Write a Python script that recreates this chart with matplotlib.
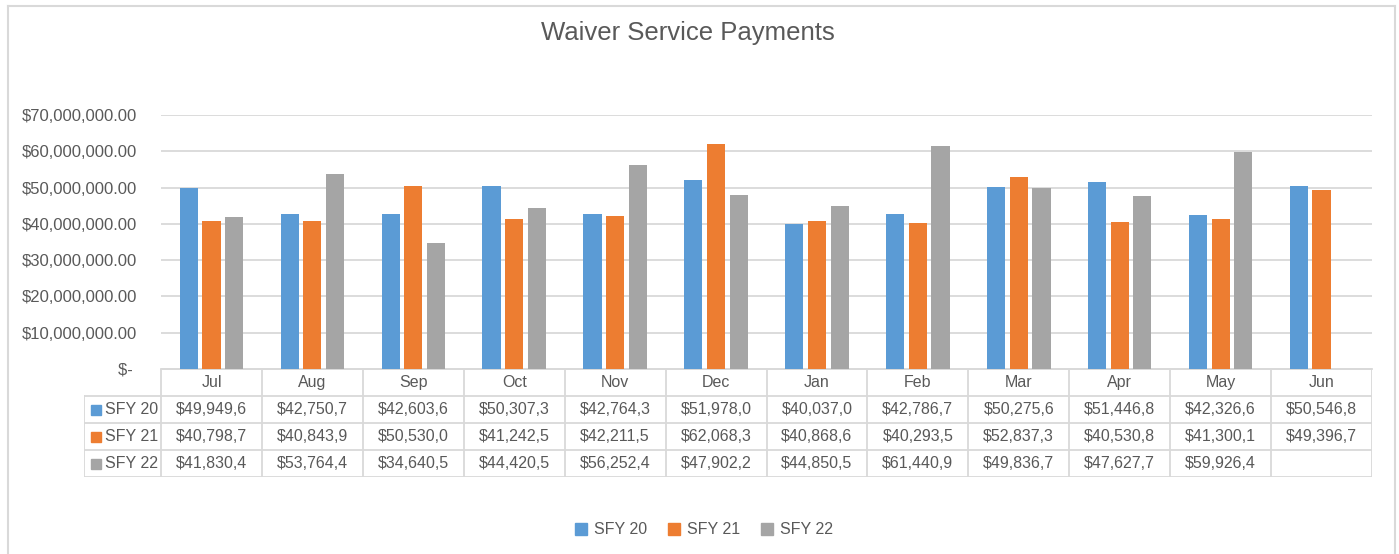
import matplotlib.pyplot as plt
import numpy as np

# Monthly waiver service payments by state fiscal year
months = ['Jul', 'Aug', 'Sep', 'Oct', 'Nov', 'Dec', 'Jan', 'Feb', 'Mar', 'Apr', 'May', 'Jun']
series_names = ['SFY 20', 'SFY 21', 'SFY 22']
sfy20 = [49949600, 42750700, 42603600, 50307300, 42764300, 51978000,
         40037000, 42786700, 50275600, 51446800, 42326600, 50546800]
sfy21 = [40798700, 40843900, 50530000, 41242500, 42211500, 62068300,
         40868600, 40293500, 52837300, 40530800, 41300100, 49396700]
sfy22 = [41830400, 53764400, 34640500, 44420500, 56252400, 47902200,
         44850500, 61440900, 49836700, 47627700, 59926400, None]

colors = ['#5B9BD5', '#ED7D31', '#A5A5A5']
text_color = '#595959'
line_color = '#D9D9D9'
font = 'Liberation Sans'

W, H = 1399, 554
fig = plt.figure(figsize=(W / 100, H / 100), dpi=100)
fig.patch.set_facecolor('white')


def fig_rect(x0, y0, x1, y1):
    # pixel box (top-left origin) -> figure fraction rect
    return [x0 / W, 1 - y1 / H, (x1 - x0) / W, (y1 - y0) / H]


# outer chart border (left, top, right)
for xs, ys in [([8, 8], [554, 6]), ([8, 1395], [6, 6]), ([1395, 1395], [6, 554])]:
    fig.add_artist(plt.Line2D([v / W for v in xs], [1 - v / H for v in ys],
                              transform=fig.transFigure, color=line_color, lw=1.5))

fig.text(688 / W, 1 - 33 / H, 'Waiver Service Payments', ha='center', va='center',
         fontsize=18.5, color=text_color, family=font)

# main bar chart
ax = fig.add_axes(fig_rect(161, 115, 1372, 369))
x = np.arange(len(months))
all_series = [sfy20, sfy21, sfy22]
width = 0.18
offsets = [-0.225, 0, 0.225]
for vals, off, c, name in zip(all_series, offsets, colors, series_names):
    xs = [xi + off for xi, v in zip(x, vals) if v is not None]
    hs = [v for v in vals if v is not None]
    ax.bar(xs, hs, width=width, color=c, label=name, zorder=3)

ax.set_xlim(-0.5, 11.5)
ax.set_ylim(0, 70000000)
ax.set_yticks(np.arange(0, 70000001, 10000000))


def money(v, pos=None):
    if v == 0:
        return '$- '
    return '${:,.2f}'.format(v)


ax.yaxis.set_major_formatter(plt.FuncFormatter(money))
ax.set_xticks([])
ax.tick_params(axis='y', length=0, pad=17, labelsize=12, labelcolor=text_color)
for lab in ax.get_yticklabels():
    lab.set_family(font)
ax.grid(axis='y', color=line_color, lw=1.3, zorder=0)
for s in ['top', 'right', 'left']:
    ax.spines[s].set_visible(False)
ax.spines['bottom'].set_color(line_color)
ax.spines['bottom'].set_linewidth(1.3)

# data table under the chart
tab = fig.add_axes(fig_rect(84, 369, 1372, 477))
label_w = (161 - 84) / ((1372 - 161) / 12)
tab.set_xlim(-0.5 - label_w, 11.5)
tab.set_ylim(4, 0)
tab.axis('off')
lw = 1.3
tab.plot([-0.5, 11.5], [0, 0], color=line_color, lw=lw)
for r in [1, 2, 3, 4]:
    tab.plot([-0.5 - label_w, 11.5], [r, r], color=line_color, lw=lw)
tab.plot([-0.5 - label_w, -0.5 - label_w], [1, 4], color=line_color, lw=lw)
for c in range(13):
    tab.plot([c - 0.5, c - 0.5], [0, 4], color=line_color, lw=lw)

for i, m in enumerate(months):
    tab.text(i, 0.5, m, ha='center', va='center', fontsize=11.5, color=text_color, family=font)

for r, (vals, c, name) in enumerate(zip(all_series, colors, series_names)):
    y = r + 1.5
    tab.plot([-0.5 - label_w + 0.12], [y], marker='s', ms=7, color=c, ls='none')
    tab.text(-0.5 - label_w + 0.21, y, name, ha='left', va='center', fontsize=11.5,
             color=text_color, family=font)
    for i, v in enumerate(vals):
        if v is None:
            continue
        txt = '${:,.0f}'.format(v)[:9]
        tab.text(i, y, txt, ha='center', va='center', fontsize=11.5, color=text_color, family=font)

# legend at bottom
handles = [plt.Line2D([], [], marker='s', ls='none', color=c, ms=8) for c in colors]
fig.legend(handles, series_names, loc='center', bbox_to_anchor=(704 / W, 1 - 530 / H), ncol=3,
           frameon=False, prop={'family': font, 'size': 11.5}, labelcolor=text_color,
           handletextpad=0.4, columnspacing=1.3, handlelength=0.8)

fig.savefig('out.png', dpi=100)
